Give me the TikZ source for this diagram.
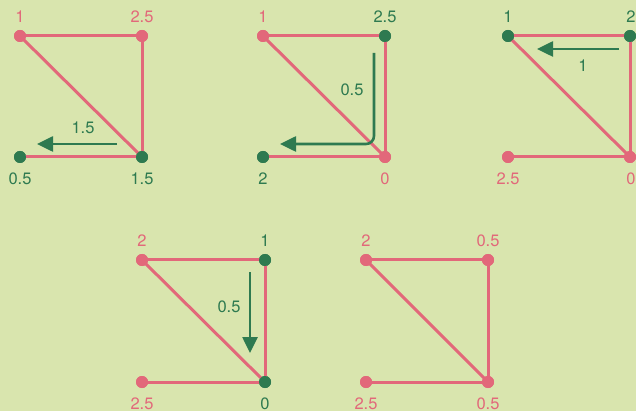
\documentclass[tikz,border=0pt]{standalone}
\usepackage{fontspec}
\setmainfont{TeX Gyre Heros}
\usetikzlibrary{arrows.meta}
\definecolor{bgc}{RGB}{217,229,174}
\definecolor{pk}{RGB}{226,104,122}
\definecolor{gr}{RGB}{46,122,80}
\tikzset{
  pdot/.style={circle,fill=pk,inner sep=0pt,minimum size=12pt},
  gdot/.style={circle,fill=gr,inner sep=0pt,minimum size=12pt},
  edge/.style={draw=pk,line width=3pt},
  flow/.style={draw=gr,line width=2.6pt,-{Triangle[length=16pt,width=15pt]}},
  plab/.style={text=pk,font=\fontsize{16.5}{16.5}\selectfont,inner sep=0pt},
  glab/.style={text=gr,font=\fontsize{16.5}{16.5}\selectfont,inner sep=0pt},
}
\begin{document}
\begin{tikzpicture}[x=1pt,y=-1pt]
\fill[bgc] (0,0) rectangle (636,411);
\useasboundingbox (0,0) rectangle (636,411);
% ---------- graph 1
\node[pdot] (a1) at (20,36) {};
\node[pdot] (b1) at (142,36) {};
\node[gdot] (c1) at (20,157) {};
\node[gdot] (d1) at (142,157) {};
\draw[edge] (a1.center) -- (b1.center) -- (d1.center) -- (c1.center);
\draw[edge] (a1.center) -- (d1.center);
\node[pdot] at (a1) {}; \node[pdot] at (b1) {};
\node[gdot] at (c1) {}; \node[gdot] at (d1) {};
\node[plab] (la1) at (20,17) {1};
\node[plab] (lb1) at (142,17) {2.5};
\node[glab] (lc1) at (20,179) {0.5};
\node[glab] (ld1) at (142,179) {1.5};
\coordinate (s1) at (117,144);
\coordinate (e1) at (37,144);
\draw[flow] (s1) -- (e1);
\node[glab] (f1) at (83,128) {1.5};
% ---------- graph 2
\node[pdot] (a2) at (263,36) {};
\node[gdot] (b2) at (385,36) {};
\node[gdot] (c2) at (263,157) {};
\node[pdot] (d2) at (385,157) {};
\draw[edge] (a2.center) -- (b2.center) -- (d2.center) -- (c2.center);
\draw[edge] (a2.center) -- (d2.center);
\node[pdot] at (a2) {}; \node[gdot] at (b2) {};
\node[gdot] at (c2) {}; \node[pdot] at (d2) {};
\node[plab] (la2) at (263,17) {1};
\node[glab] (lb2) at (385,17) {2.5};
\node[glab] (lc2) at (263,179) {2};
\node[plab] (ld2) at (385,179) {0};
\coordinate (s2) at (374,53);
\coordinate (m2) at (374,144);
\coordinate (e2) at (280,144);
\draw[flow,rounded corners=8pt] (s2) -- (m2) -- (e2);
\node[glab] (f2) at (352,90) {0.5};
% ---------- graph 3
\node[gdot] (a3) at (508,36) {};
\node[gdot] (b3) at (630,36) {};
\node[pdot] (c3) at (508,157) {};
\node[pdot] (d3) at (630,157) {};
\draw[edge] (a3.center) -- (b3.center) -- (d3.center) -- (c3.center);
\draw[edge] (a3.center) -- (d3.center);
\node[gdot] at (a3) {}; \node[gdot] at (b3) {};
\node[pdot] at (c3) {}; \node[pdot] at (d3) {};
\node[glab] (la3) at (508,17) {1};
\node[glab] (lb3) at (631,17) {2};
\node[plab] (lc3) at (508,179) {2.5};
\node[plab] (ld3) at (631,179) {0};
\coordinate (s3) at (619,49);
\coordinate (e3) at (537,49);
\draw[flow] (s3) -- (e3);
\node[glab] (f3) at (583,66) {1};
% ---------- graph 4
\node[pdot] (a4) at (142,260) {};
\node[gdot] (b4) at (265,260) {};
\node[pdot] (c4) at (142,382) {};
\node[gdot] (d4) at (265,382) {};
\draw[edge] (a4.center) -- (b4.center) -- (d4.center) -- (c4.center);
\draw[edge] (a4.center) -- (d4.center);
\node[pdot] at (a4) {}; \node[gdot] at (b4) {};
\node[pdot] at (c4) {}; \node[gdot] at (d4) {};
\node[plab] (la4) at (142,241) {2};
\node[glab] (lb4) at (265,241) {1};
\node[plab] (lc4) at (142,404) {2.5};
\node[glab] (ld4) at (265,404) {0};
\coordinate (s4) at (250,272);
\coordinate (e4) at (250,353);
\draw[flow] (s4) -- (e4);
\node[glab] (f4) at (229,307) {0.5};
% ---------- graph 5
\node[pdot] (a5) at (366,260) {};
\node[pdot] (b5) at (488,260) {};
\node[pdot] (c5) at (366,382) {};
\node[pdot] (d5) at (488,382) {};
\draw[edge] (a5.center) -- (b5.center) -- (d5.center) -- (c5.center);
\draw[edge] (a5.center) -- (d5.center);
\node[pdot] at (a5) {}; \node[pdot] at (b5) {};
\node[pdot] at (c5) {}; \node[pdot] at (d5) {};
\node[plab] (la5) at (366,241) {2};
\node[plab] (lb5) at (488,241) {0.5};
\node[plab] (lc5) at (366,404) {2.5};
\node[plab] (ld5) at (488,404) {0.5};
\end{tikzpicture}
\end{document}
